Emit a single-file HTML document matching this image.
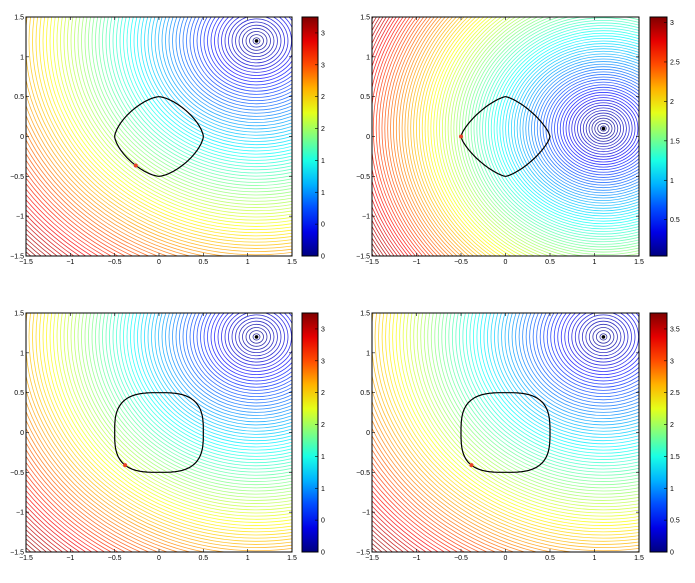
<!DOCTYPE html>
<html><head><meta charset="utf-8"><style>
html,body{margin:0;padding:0;background:#fff;width:695px;height:583px;overflow:hidden}
svg{display:block;font-family:"Liberation Sans",sans-serif}
</style></head><body>
<svg id="s" width="695" height="583" xmlns="http://www.w3.org/2000/svg"></svg>
<script>
function jet(t){t=Math.max(0,Math.min(1,t));
 function f(x){return Math.max(0,Math.min(1,x));}
 var r=f(1.5-Math.abs(4*t-3)),g=f(1.5-Math.abs(4*t-2)),b=f(1.5-Math.abs(4*t-1));
 return 'rgb('+Math.round(r*255)+','+Math.round(g*255)+','+Math.round(b*255)+')';}
var S=document.getElementById('s'),h='';
var panels=[
 {x0:26,x1:292,y0:17,y1:256,cx:1.1,cy:1.2,vmin:0,vmax:3.75,p:1.5,da:232,cb:[302,318],labs:[[0,'0'],[0.5,'0'],[1,'1'],[1.5,'1'],[2,'2'],[2.5,'2'],[3,'3'],[3.5,'3']]},
 {x0:372,x1:639,y0:17,y1:256,cx:1.1,cy:0.1,vmin:0.04,vmax:3.07,p:1.35,da:180,cb:[650,667],labs:[[0.5,'0.5'],[1,'1'],[1.5,'1.5'],[2,'2'],[2.5,'2.5'],[3,'3']]},
 {x0:26,x1:292,y0:313,y1:552,cx:1.1,cy:1.2,vmin:0,vmax:3.75,p:3,da:228,cb:[302,318],labs:[[0,'0'],[0.5,'0'],[1,'1'],[1.5,'1'],[2,'2'],[2.5,'2'],[3,'3'],[3.5,'3']]},
 {x0:372,x1:639,y0:313,y1:552,cx:1.1,cy:1.2,vmin:0,vmax:3.75,p:3,da:228,cb:[650,667],labs:[[0,'0'],[0.5,'0.5'],[1,'1'],[1.5,'1.5'],[2,'2'],[2.5,'2.5'],[3,'3'],[3.5,'3.5']]}
];
panels.forEach(function(P,i){
 var sx=(P.x1-P.x0)/3, sy=(P.y1-P.y0)/3;
 function X(v){return P.x0+(v+1.5)*sx;} function Y(v){return P.y1-(v+1.5)*sy;}
 function cur(a){var t=a*Math.PI/180,c=Math.cos(t),s=Math.sin(t);
  return [0.5*Math.sign(c)*Math.pow(Math.abs(c),2/P.p),0.5*Math.sign(s)*Math.pow(Math.abs(s),2/P.p)];}
 h+='<clipPath id="c'+i+'"><rect x="'+P.x0+'" y="'+P.y0+'" width="'+(P.x1-P.x0)+'" height="'+(P.y1-P.y0)+'"/></clipPath>';
 h+='<g clip-path="url(#c'+i+')" fill="none" stroke-width="0.8" stroke-opacity="0.8">';
 var N=95;
 for(var k=1;k<=N;k++){var rr=(P.vmax)*k/N;
  h+='<ellipse cx="'+X(P.cx).toFixed(1)+'" cy="'+Y(P.cy).toFixed(1)+'" rx="'+(rr*sx).toFixed(2)+'" ry="'+(rr*sy).toFixed(2)+'" stroke="'+jet((rr-P.vmin)/(P.vmax-P.vmin))+'"/>';}
 h+='</g>';
 var d='';
 for(var a=0;a<=360;a+=2){var q=cur(a);d+=(a?'L':'M')+X(q[0]).toFixed(1)+' '+Y(q[1]).toFixed(1);}
 h+='<path clip-path="url(#c'+i+')" d="'+d+'Z" fill="none" stroke="#000" stroke-width="1.2"/>';
 h+='<circle cx="'+X(P.cx)+'" cy="'+Y(P.cy)+'" r="1.8" fill="#000"/>';
 var dp=cur(P.da);
 h+='<circle cx="'+X(dp[0])+'" cy="'+Y(dp[1])+'" r="2" fill="#e8402a"/>';
 h+='<rect x="'+P.x0+'" y="'+P.y0+'" width="'+(P.x1-P.x0)+'" height="'+(P.y1-P.y0)+'" fill="none" stroke="#000" stroke-width="1"/>';
 var tv=[-1.5,-1,-0.5,0,0.5,1,1.5],tl=['\u22121.5','\u22121','\u22120.5','0','0.5','1','1.5'];
 tv.forEach(function(v,j){
  h+='<line x1="'+X(v)+'" y1="'+P.y1+'" x2="'+X(v)+'" y2="'+(P.y1-3)+'" stroke="#000" stroke-width="0.6"/>';
  h+='<line x1="'+X(v)+'" y1="'+P.y0+'" x2="'+X(v)+'" y2="'+(P.y0+3)+'" stroke="#000" stroke-width="0.6"/>';
  h+='<line x1="'+P.x0+'" y1="'+Y(v)+'" x2="'+(P.x0+3)+'" y2="'+Y(v)+'" stroke="#000" stroke-width="0.6"/>';
  h+='<line x1="'+P.x1+'" y1="'+Y(v)+'" x2="'+(P.x1-3)+'" y2="'+Y(v)+'" stroke="#000" stroke-width="0.6"/>';
  h+='<text x="'+X(v)+'" y="'+(P.y1+8)+'" font-size="7" text-anchor="middle">'+tl[j]+'</text>';
  h+='<text x="'+(P.x0-2)+'" y="'+(Y(v)+2.5)+'" font-size="7" text-anchor="end">'+tl[j]+'</text>';
 });
 var cx0=P.cb[0],cx1=P.cb[1],ch=P.y1-P.y0;
 h+='<linearGradient id="g'+i+'" x1="0" y1="1" x2="0" y2="0">';
 for(var q=0;q<=10;q++){h+='<stop offset="'+(q/10)+'" stop-color="'+jet(q/10)+'"/>';}
 h+='</linearGradient>';
 h+='<rect x="'+cx0+'" y="'+P.y0+'" width="'+(cx1-cx0)+'" height="'+ch+'" fill="url(#g'+i+')" stroke="#000" stroke-width="1"/>';
 P.labs.forEach(function(L){var yy=P.y1-(L[0]-P.vmin)/(P.vmax-P.vmin)*ch;
  h+='<line x1="'+cx1+'" y1="'+yy+'" x2="'+(cx1-3)+'" y2="'+yy+'" stroke="#000" stroke-width="0.6"/>';
  h+='<text x="'+(cx1+3)+'" y="'+(yy+2.5)+'" font-size="7">'+L[1]+'</text>';});
});
S.innerHTML=h;
</script>
</body></html>
